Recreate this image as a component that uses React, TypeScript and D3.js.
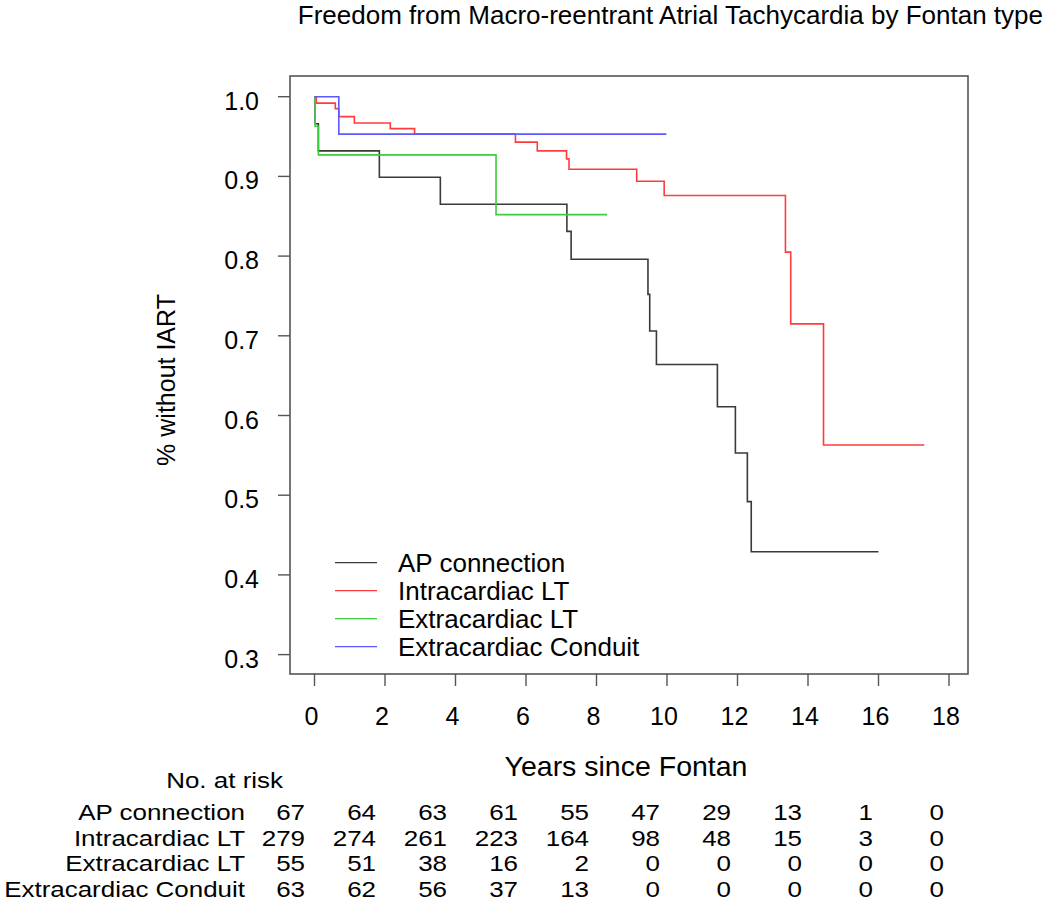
import * as d3 from 'd3';

const W = 1050;
const H = 901;
const FONT = '"Liberation Sans", Arial, sans-serif';

// plot box (R-style frame) and axis ranges
const BOX = { left: 290, right: 968, top: 76, bottom: 674 };

const TITLE = 'Freedom from Macro-reentrant Atrial Tachycardia by Fontan type';
const X_LABEL = 'Years since Fontan';
const Y_LABEL = '% without IART';

const X_TICKS = [0, 2, 4, 6, 8, 10, 12, 14, 16, 18];
const Y_TICKS = [0.3, 0.4, 0.5, 0.6, 0.7, 0.8, 0.9, 1.0];

// Kaplan-Meier step curves: event times and survival after each time
const apTimes = [0, 0.02, 0.11, 1.84, 3.57, 7.16, 7.28, 9.46, 9.51, 9.7, 11.43, 11.94, 12.28, 12.39];
const apSurv = [1.0, 0.966, 0.932, 0.899, 0.865, 0.831, 0.796, 0.752, 0.706, 0.664, 0.611, 0.553, 0.492, 0.429];
const apEnd = 16.0;

const ilTimes = [0, 0.05, 0.59, 0.69, 1.13, 2.15, 2.84, 5.7, 6.32, 7.15, 7.22, 9.14, 9.92, 13.36, 13.51, 14.44];
const ilSurv = [1.0, 0.992, 0.985, 0.975, 0.967, 0.96, 0.953, 0.943, 0.932, 0.922, 0.909, 0.894, 0.876, 0.805, 0.715, 0.563];
const ilEnd = 17.3;

const elTimes = [0, 0.02, 0.11, 5.15];
const elSurv = [1.0, 0.963, 0.927, 0.852];
const elEnd = 8.3;

const ecTimes = [0, 0.69];
const ecSurv = [1.0, 0.953];
const ecEnd = 9.98;

const GROUPS = ['AP connection', 'Intracardiac LT', 'Extracardiac LT', 'Extracardiac Conduit'];
const COLORS = ['#3a3a3a', '#ff3c3c', '#3ccc3c', '#5a5aff'];

// numbers at risk at 0, 2, ..., 18 years
const riskAP = [67, 64, 63, 61, 55, 47, 29, 13, 1, 0];
const riskIL = [279, 274, 261, 223, 164, 98, 48, 15, 3, 0];
const riskEL = [55, 51, 38, 16, 2, 0, 0, 0, 0, 0];
const riskEC = [63, 62, 56, 37, 13, 0, 0, 0, 0, 0];

// table text is a bit wide and short in the original
const TABLE_FS = 22;
const TABLE_SX = 1.18;

export default function App() {
  const x = d3.scaleLinear().domain([0, 18]).range([314.5, 949]);
  const y = d3.scaleLinear().domain([0.3, 1.0]).range([654.6, 96.7]);
  // at-risk table columns are shifted from the axis ticks in the original
  const xRisk = d3.scaleLinear().domain([0, 18]).range([305, 944]);
  const rowY = d3.scalePoint<number>().domain([0, 1, 2, 3]).range([820, 896.5]);

  const line = d3
    .line<[number, number]>()
    .x((d) => x(d[0]))
    .y((d) => y(d[1]))
    .curve(d3.curveStepAfter);

  const curves = [
    [apTimes, apSurv, apEnd],
    [ilTimes, ilSurv, ilEnd],
    [elTimes, elSurv, elEnd],
    [ecTimes, ecSurv, ecEnd],
  ].map(([t, s, end]: any) => {
    const pts: [number, number][] = t.map((ti: number, i: number) => [ti, s[i]]);
    pts.push([end, s[s.length - 1]]);
    return line(pts) as string;
  });

  const risk = [riskAP, riskIL, riskEL, riskEC];
  const legendY = d3.scalePoint<number>().domain([0, 1, 2, 3]).range([562.7, 646.7]);

  const tableText = (key: string, tx: number, ty: number, s: string | number) => (
    <text
      key={key}
      transform={`translate(${tx},${ty}) scale(${TABLE_SX},1)`}
      textAnchor="end"
      fontSize={TABLE_FS}
      fill="#000"
    >
      {s}
    </text>
  );

  return (
    <svg
      width={W}
      height={H}
      style={{ position: 'absolute', left: 0, top: 0, background: '#fff' }}
      fontFamily={FONT}
    >
      <text x={1043} y={24} textAnchor="end" fontSize={26} fill="#000">
        {TITLE}
      </text>

      {/* frame */}
      <rect
        x={BOX.left}
        y={BOX.top}
        width={BOX.right - BOX.left}
        height={BOX.bottom - BOX.top}
        fill="none"
        stroke="#555"
        strokeWidth={1.6}
      />

      {/* y axis */}
      {Y_TICKS.map((v) => (
        <g key={'y' + v}>
          <line x1={BOX.left} x2={BOX.left - 12} y1={y(v)} y2={y(v)} stroke="#555" strokeWidth={1.4} />
          <text x={259} y={y(v) + 13} textAnchor="end" fontSize={25} fill="#000">
            {v.toFixed(1)}
          </text>
        </g>
      ))}
      <text
        transform={`translate(175,380) rotate(-90)`}
        textAnchor="middle"
        fontSize={25}
        fill="#000"
      >
        {Y_LABEL}
      </text>

      {/* x axis */}
      {X_TICKS.map((v) => (
        <g key={'x' + v}>
          <line x1={x(v)} x2={x(v)} y1={BOX.bottom} y2={BOX.bottom + 12} stroke="#555" strokeWidth={1.4} />
          <text x={x(v) - 3} y={725} textAnchor="middle" fontSize={25} fill="#000">
            {v}
          </text>
        </g>
      ))}
      <text x={626} y={776} textAnchor="middle" fontSize={28.5} fill="#000">
        {X_LABEL}
      </text>

      {/* survival curves */}
      {curves.map((d, i) => (
        <path key={'c' + i} d={d} fill="none" stroke={COLORS[i]} strokeWidth={1.6} />
      ))}

      {/* legend */}
      {GROUPS.map((g, i) => (
        <g key={'l' + i}>
          <line x1={335} x2={377} y1={legendY(i)} y2={legendY(i)} stroke={COLORS[i]} strokeWidth={1.2} />
          <text x={398} y={(legendY(i) as number) + 9} fontSize={26} fill="#000">
            {g}
          </text>
        </g>
      ))}

      {/* numbers at risk */}
      {tableText('head', 283, 788, 'No. at risk')}
      {GROUPS.map((g, i) => (
        <g key={'r' + i}>
          {tableText('g' + i, 245, rowY(i) as number, g)}
          {risk[i].map((n, j) => tableText('n' + j, xRisk(X_TICKS[j]), rowY(i) as number, n))}
        </g>
      ))}
    </svg>
  );
}
